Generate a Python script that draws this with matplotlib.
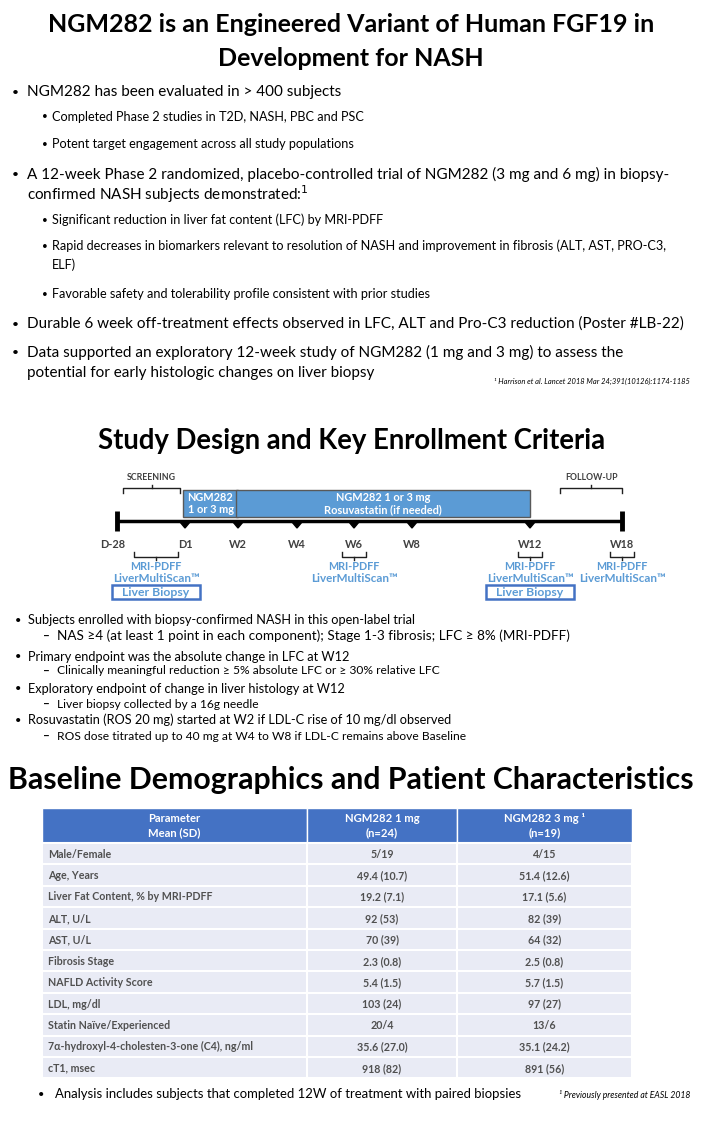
import matplotlib
matplotlib.use("Agg")
import matplotlib.pyplot as plt
from matplotlib.patches import Rectangle, Polygon

plt.rcParams['font.family'] = ['Lato', 'DejaVu Sans']

# ---- text content ----
title_1 = ["NGM282 is an Engineered Variant of Human FGF19 in", "Development for NASH"]
intro_bullets = [
    (1, ["NGM282 has been evaluated in > 400 subjects"]),
    (2, ["Completed Phase 2 studies in T2D, NASH, PBC and PSC"]),
    (2, ["Potent target engagement across all study populations"]),
    (1, ["A 12-week Phase 2 randomized, placebo-controlled trial of NGM282 (3 mg and 6 mg) in biopsy-",
         "confirmed NASH subjects demonstrated:$^1$"]),
    (2, ["Significant reduction in liver fat content (LFC) by MRI-PDFF"]),
    (2, ["Rapid decreases in biomarkers relevant to resolution of NASH and improvement in fibrosis (ALT, AST, PRO-C3,",
         "ELF)"]),
    (2, ["Favorable safety and tolerability profile consistent with prior studies"]),
    (1, ["Durable 6 week off-treatment effects observed in LFC, ALT and Pro-C3 reduction (Poster #LB-22)"]),
    (1, ["Data supported an exploratory 12-week study of NGM282 (1 mg and 3 mg) to assess the",
         "potential for early histologic changes on liver biopsy"]),
]
ref_1 = "¹ Harrison et al. Lancet 2018 Mar 24;391(10126):1174-1185"

title_2 = "Study Design and Key Enrollment Criteria"
visits = ["D-28", "D1", "W2", "W4", "W6", "W8", "W12", "W18"]
dose_marks = ["D1", "W2", "W4", "W6", "W8", "W12"]
imaging_visits = ["W6", "W12", "W18"]
phases = [("SCREENING", "D-28", "D1"), ("FOLLOW-UP", "W12", "W18")]
treatment = [("NGM282\n1 or 3 mg", "D1", "W2"),
             ("NGM282 1 or 3 mg\nRosuvastatin (if needed)", "W2", "W12")]
design_bullets = [
    ("Subjects enrolled with biopsy-confirmed NASH in this open-label trial",
     "NAS ≥4 (at least 1 point in each component); Stage 1-3 fibrosis; LFC ≥ 8% (MRI-PDFF)"),
    ("Primary endpoint was the absolute change in LFC at W12",
     "Clinically meaningful reduction ≥ 5% absolute LFC or ≥ 30% relative LFC"),
    ("Exploratory endpoint of change in liver histology at W12",
     "Liver biopsy collected by a 16g needle"),
    ("Rosuvastatin (ROS 20 mg) started at W2 if LDL-C rise of 10 mg/dl observed",
     "ROS dose titrated up to 40 mg at W4 to W8 if LDL-C remains above Baseline"),
]

title_3 = "Baseline Demographics and Patient Characteristics"
col_heads = ["Parameter\nMean (SD)", "NGM282 1 mg\n(n=24)", "NGM282 3 mg ¹\n(n=19)"]
parameters = ["Male/Female", "Age, Years", "Liver Fat Content, % by MRI-PDFF", "ALT, U/L", "AST, U/L",
              "Fibrosis Stage", "NAFLD Activity Score", "LDL, mg/dl", "Statin Naïve/Experienced",
              "7α-hydroxyl-4-cholesten-3-one (C4), ng/ml", "cT1, msec"]
dose_1mg = ["5/19", "49.4 (10.7)", "19.2 (7.1)", "92 (53)", "70 (39)", "2.3 (0.8)", "5.4 (1.5)",
            "103 (24)", "20/4", "35.6 (27.0)", "918 (82)"]
dose_3mg = ["4/15", "51.4 (12.6)", "17.1 (5.6)", "82 (39)", "64 (32)", "2.5 (0.8)", "5.7 (1.5)",
            "97 (27)", "13/6", "35.1 (24.2)", "891 (56)"]
foot_bullet = "Analysis includes subjects that completed 12W of treatment with paired biopsies"
ref_2 = "¹ Previously presented at EASL 2018"

# schematic x-position of each visit on the timeline (pixels of the slide)
visit_x = dict(zip(visits, [117, 185, 238, 297, 354, 412, 530, 622]))

W, H = 701, 1130
fig = plt.figure(figsize=(W / 100, H / 100), dpi=100)
ax = fig.add_axes([0, 0, 1, 1])
ax.set_xlim(0, W)
ax.set_ylim(H, 0)
ax.axis('off')

def px(s):
    return s * 0.72

DARK = '#404040'
BLUE = '#5b9bd5'

# ---- section 1 ----
for i, line in enumerate(title_1):
    ax.text(351, 24 + 35 * i, line, ha='center', va='center', fontsize=px(25), fontweight='bold')

intro_y = [[92], [117], [144], [174, 194], [220], [246, 265], [294], [324], [352, 373]]
for (level, lines), ys in zip(intro_bullets, intro_y):
    if level == 1:
        bx, tx, fs = 12, 27, px(15.3)
    else:
        bx, tx, fs = 42, 52, px(12.6)
    ax.text(bx, ys[0], '•', ha='left', va='center', fontsize=fs * 0.8)
    for line, yy in zip(lines, ys):
        ax.text(tx, yy, line, ha='left', va='center', fontsize=fs)
ax.text(690, 381, ref_1, ha='right', va='center', fontsize=px(7.5), style='italic')

# ---- section 2 ----
ax.text(352, 441, title_2, ha='center', va='center', fontsize=px(27.5), fontweight='bold')

line_y = 521
ax.plot([visit_x['D-28'], visit_x['W18']], [line_y, line_y], color='black', lw=2.5, solid_capstyle='butt')
for v in ['D-28', 'W18']:
    ax.plot([visit_x[v], visit_x[v]], [511, 531], color='black', lw=3.5, solid_capstyle='butt')
for v in dose_marks:
    x = visit_x[v]
    ax.add_patch(Polygon([[x - 5, line_y + 1], [x + 5, line_y + 1], [x, line_y + 7]], closed=True,
                         color='black'))
for v in visits:
    ax.text(visit_x[v] - (4 if v == 'D-28' else 0), 545, v, ha='center', va='center',
            fontsize=px(11), fontweight='bold', color=DARK)

for label, a, b in treatment:
    x0, x1 = visit_x[a] - 2, visit_x[b]
    ax.add_patch(Rectangle((x0, 490), x1 - x0, 27, facecolor=BLUE, edgecolor='#595959', lw=1))
    ax.text((x0 + x1) / 2, 503.5, label, ha='center', va='center', color='white',
            fontsize=px(11), fontweight='bold', linespacing=1.15)

def brace(x0, x1, yb, up):
    d = -1 if up else 1
    xm = (x0 + x1) / 2
    ax.plot([x0, x0, x1, x1], [yb + 5 * d, yb, yb, yb + 5 * d], color='#202020', lw=1)
    ax.plot([xm, xm], [yb, yb - 3 * d], color='#202020', lw=1)

for label, a, b in phases:
    x0, x1 = visit_x[a] + 6, visit_x[b] - 5
    if label == 'FOLLOW-UP':
        x0, x1 = visit_x[a] + 30, visit_x[b]
    ax.text((x0 + x1) / 2, 477, label, ha='center', va='center', fontsize=px(8.8),
            fontweight='bold', color=DARK)
    brace(x0, x1, 488, up=False)

# imaging groups
groups = [((visit_x['D-28'] + visit_x['D1']) / 2 + 5, 22)] + [(visit_x[v], 12) for v in imaging_visits]
for xc, hw in groups:
    brace(xc - hw, xc + hw, 557, up=True)
    ax.text(xc, 566, 'MRI-PDFF', ha='center', va='center', fontsize=px(10.8), fontweight='bold', color=BLUE)
    ax.text(xc, 579, 'LiverMultiScan™', ha='center', va='center', fontsize=px(11.6),
            fontweight='bold', color=BLUE)
for xc in [groups[0][0], visit_x['W12']]:
    ax.add_patch(Rectangle((xc - 44, 585), 88, 14, facecolor='none', edgecolor='#4472c4', lw=1.8))
    ax.text(xc, 592, 'Liver Biopsy', ha='center', va='center', fontsize=px(12.3), fontweight='bold',
            color=BLUE)

design_y = [(620, 636), (657, 671), (689, 704), (720, 736)]
for (main, sub), (ym, ys) in zip(design_bullets, design_y):
    ax.text(15, ym, '•', ha='left', va='center', fontsize=px(11))
    ax.text(28, ym, main, ha='left', va='center', fontsize=px(12.7))
    ax.text(43, ys, '–', ha='left', va='center', fontsize=px(12), fontweight='bold')
    sub_fs = px(13.5) if sub.startswith('NAS') else px(12)
    ax.text(57, ys, sub, ha='left', va='center', fontsize=sub_fs)

# ---- section 3 ----
ax.text(8, 780, title_3, ha='left', va='center', fontsize=px(30.3), fontweight='bold')

col_x = [42, 307, 457, 632]
top, head_h, row_h = 808, 35, 21.4
for c in range(3):
    ax.add_patch(Rectangle((col_x[c], top), col_x[c + 1] - col_x[c], head_h, facecolor='#4472c4',
                           edgecolor='white', lw=1))
    ax.text((col_x[c] + col_x[c + 1]) / 2, top + head_h / 2, col_heads[c], ha='center', va='center',
            color='white', fontsize=px(11.3), fontweight='bold', linespacing=1.4)
for r, (p, a, b) in enumerate(zip(parameters, dose_1mg, dose_3mg)):
    y0 = top + head_h + r * row_h
    for c in range(3):
        ax.add_patch(Rectangle((col_x[c], y0), col_x[c + 1] - col_x[c], row_h, facecolor='#e9ebf5',
                               edgecolor='white', lw=1.5))
    yc = y0 + row_h / 2 + 0.5
    ax.text(48, yc, p, ha='left', va='center', fontsize=px(10.6), fontweight='bold', color='#505050')
    ax.text((col_x[1] + col_x[2]) / 2, yc, a, ha='center', va='center', fontsize=px(10.6),
            fontweight='bold', color='#505050')
    ax.text((col_x[2] + col_x[3]) / 2, yc, b, ha='center', va='center', fontsize=px(10.6),
            fontweight='bold', color='#505050')

ax.text(38, 1094, '•', ha='left', va='center', fontsize=px(11))
ax.text(55, 1094, foot_bullet, ha='left', va='center', fontsize=px(13.1))
ax.text(690, 1095, ref_2, ha='right', va='center', fontsize=px(8.7), style='italic')

fig.savefig('out.png', dpi=100)
